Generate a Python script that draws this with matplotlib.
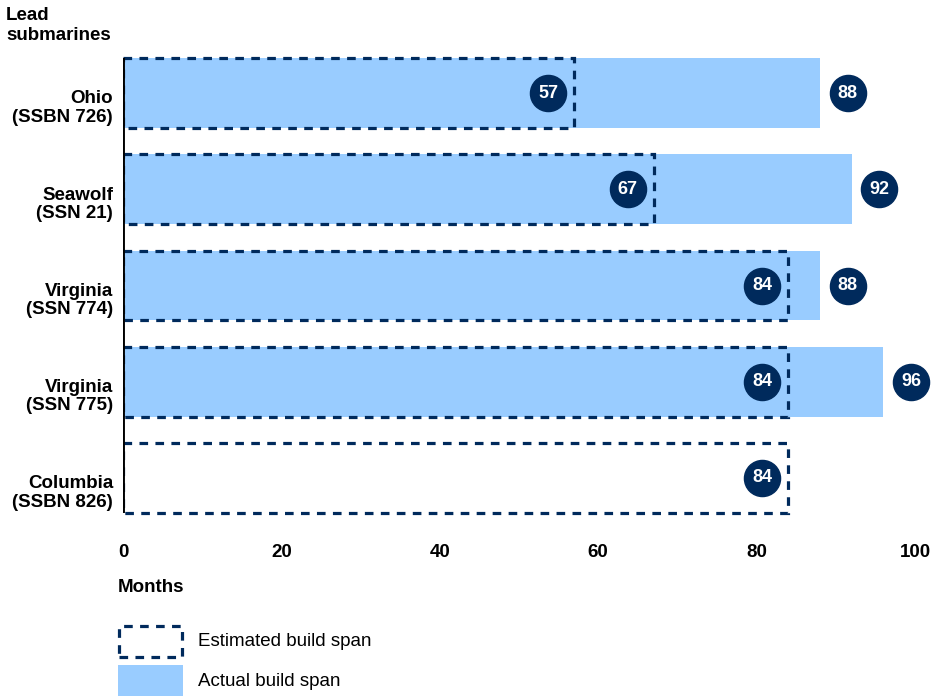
import matplotlib
matplotlib.use("Agg")
from matplotlib import pyplot as plt
from matplotlib.patches import Rectangle
import matplotlib.transforms as mtransforms

plt.rcParams['font.family'] = ['Liberation Sans', 'DejaVu Sans']

# data
boats = ["Ohio\n(SSBN 726)", "Seawolf\n(SSN 21)", "Virginia\n(SSN 774)",
         "Virginia\n(SSN 775)", "Columbia\n(SSBN 826)"]
estimated = [57, 67, 84, 84, 84]
actual = [88, 92, 88, 96, None]
xticks = [0, 20, 40, 60, 80, 100]

light = "#99ccff"
navy = "#002a5c"
bar_h = 0.725
dash = (0, (2.7, 2.3))
fs = 13.5

fig = plt.figure(figsize=(9.5, 6.96), dpi=100)
ax = fig.add_axes([123/950, 1 - 526/696, 792/950, 481/696])
ax.set_xlim(0, 100)
ax.set_ylim(4.5, -0.5)

for i, name in enumerate(boats):
    if actual[i] is not None:
        ax.barh(i, actual[i], height=bar_h, color=light, zorder=1)
        ax.plot(actual[i] + 3.5, i, 'o', ms=26, color=navy, zorder=4, clip_on=False)
        ax.text(actual[i] + 3.5, i, str(actual[i]), color='white', fontsize=13,
                fontweight='bold', ha='center', va='center', zorder=5)
    ax.add_patch(Rectangle((0, i - bar_h/2), estimated[i], bar_h, fill=False,
                           edgecolor=navy, lw=2.3, linestyle=dash, zorder=3))
    ax.plot(estimated[i] - 3.3, i, 'o', ms=26, color=navy, zorder=4)
    ax.text(estimated[i] - 3.3, i, str(estimated[i]), color='white', fontsize=13,
            fontweight='bold', ha='center', va='center', zorder=5)

    # category labels sit a little below the bar centres in the reference
    lab_tr = mtransforms.blended_transform_factory(ax.transAxes, ax.transData) + \
        mtransforms.ScaledTranslation(-10/100, -15/100, fig.dpi_scale_trans)
    ax.text(0, i, name, transform=lab_tr, fontsize=fs, fontweight='bold',
            ha='right', va='center', multialignment='right', linespacing=1.1)

# vertical baseline spanning the bars
ax.plot([0, 0], [-bar_h/2, len(boats) - 1 + bar_h/2], color='black', lw=2.8,
        zorder=6, solid_capstyle='butt')

for s in ax.spines.values():
    s.set_visible(False)
ax.set_yticks([])
ax.set_xticks(xticks)
ax.set_xticklabels([str(t) for t in xticks], fontsize=fs, fontweight='bold')
ax.tick_params(axis='both', length=0)
ax.tick_params(axis='x', pad=13)

fig.text(6/950, 1 - 7/696, "Lead\nsubmarines", fontsize=fs, fontweight='bold',
         ha='left', va='top', linespacing=1.25)
fig.text(118/950, 1 - 587/696, "Months", fontsize=fs, fontweight='bold',
         ha='left', va='center')

# legend
fig.patches.append(Rectangle((119/950, 1 - 657/696), 63/950, 31/696, fill=False,
                             edgecolor=navy, lw=2.3, linestyle=dash,
                             transform=fig.transFigure, figure=fig))
fig.text(198/950, 1 - 641/696, "Estimated build span", fontsize=13.5,
         ha='left', va='center')
fig.patches.append(Rectangle((118/950, 0), 65/950, 31/696, facecolor=light,
                             edgecolor='none', transform=fig.transFigure, figure=fig))
fig.text(198/950, 1 - 682/696, "Actual build span", fontsize=13.5,
         ha='left', va='center')

fig.savefig("out.png", dpi=100)
